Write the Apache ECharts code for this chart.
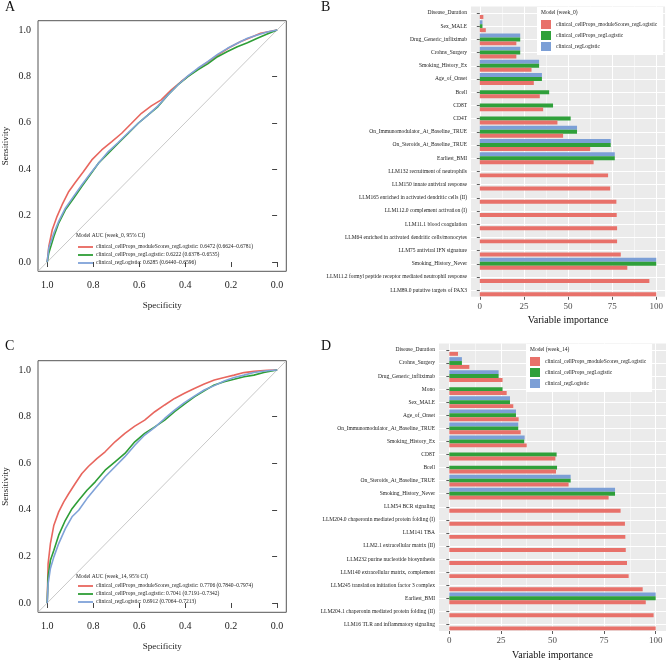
<!DOCTYPE html>
<html>
<head>
<meta charset="utf-8">
<script src="https://cdn.jsdelivr.net/npm/echarts@6/dist/echarts.min.js"></script>
<style>html,body{margin:0;padding:0;background:#fff}#chart{width:666px;height:661px}</style>
</head>
<body>
<div id="chart"></div>
<script>
// ---------- data ----------
const modelNames = ['clinical_cellProps_moduleScores_regLogistic', 'clinical_cellProps_regLogistic', 'clinical_regLogistic'];
const modelColors = ['#E8716A', '#2FA03A', '#7C9FD6'];
const rocColors = ['#E8665E', '#2E9E36', '#7FA2D8'];
const rocTicks = [0, 0.2, 0.4, 0.6, 0.8, 1.0];
const impTicks = [0, 25, 50, 75, 100];
const impMinorTicks = [12.5, 37.5, 62.5, 87.5];
const diagonalRef = [[1.04, -0.04], [-0.04, 1.04]];

const aucWeek0 = ['0.6472 (0.6624–0.6781)', '0.6222 (0.6378–0.6535)', '0.6285 (0.6440–0.6596)'];
const aucWeek14 = ['0.7706 (0.7840–0.7974)', '0.7041 (0.7191–0.7342)', '0.6912 (0.7064–0.7213)'];

// ROC week 0: [specificity, sensitivity]
const rocW0Module = [[1,0],[0.993,0.067],[0.978,0.139],[0.957,0.197],[0.935,0.247],[0.906,0.304],[0.878,0.343],[0.842,0.390],[0.806,0.440],[0.763,0.483],[0.719,0.519],[0.676,0.555],[0.633,0.598],[0.590,0.641],[0.547,0.673],[0.504,0.699],[0.460,0.742],[0.417,0.778],[0.374,0.811],[0.331,0.842],[0.288,0.871],[0.245,0.900],[0.201,0.928],[0.158,0.950],[0.115,0.968],[0.072,0.986],[0,1]];
const rocW0CellProps = [[1,0],[0.993,0.039],[0.971,0.110],[0.950,0.168],[0.921,0.225],[0.885,0.275],[0.849,0.326],[0.813,0.376],[0.777,0.426],[0.734,0.469],[0.691,0.512],[0.647,0.555],[0.604,0.598],[0.561,0.634],[0.518,0.670],[0.475,0.720],[0.432,0.763],[0.388,0.799],[0.345,0.828],[0.302,0.854],[0.259,0.885],[0.216,0.907],[0.173,0.928],[0.129,0.945],[0.086,0.964],[0.043,0.983],[0,1]];
const rocW0Clinical = [[1,0],[0.993,0.060],[0.971,0.125],[0.950,0.175],[0.921,0.232],[0.885,0.283],[0.849,0.333],[0.813,0.380],[0.777,0.426],[0.734,0.476],[0.691,0.515],[0.647,0.558],[0.604,0.598],[0.561,0.634],[0.518,0.673],[0.475,0.720],[0.432,0.763],[0.388,0.802],[0.345,0.835],[0.302,0.864],[0.259,0.895],[0.216,0.921],[0.173,0.943],[0.129,0.964],[0.086,0.978],[0.043,0.991],[0,1]];

// ROC week 14
const rocW14Module = [[1,0],[0.996,0.169],[0.986,0.255],[0.971,0.334],[0.950,0.391],[0.928,0.434],[0.906,0.470],[0.878,0.513],[0.849,0.556],[0.820,0.587],[0.784,0.620],[0.748,0.649],[0.705,0.692],[0.662,0.728],[0.619,0.759],[0.576,0.785],[0.532,0.821],[0.489,0.850],[0.446,0.878],[0.403,0.900],[0.360,0.921],[0.317,0.940],[0.273,0.957],[0.230,0.968],[0.187,0.978],[0.144,0.989],[0.101,0.994],[0.043,0.999],[0,1]];
const rocW14CellProps = [[1,0],[0.996,0.112],[0.986,0.183],[0.971,0.226],[0.950,0.291],[0.921,0.355],[0.892,0.405],[0.863,0.441],[0.827,0.484],[0.791,0.520],[0.748,0.570],[0.705,0.606],[0.662,0.642],[0.619,0.692],[0.576,0.728],[0.532,0.756],[0.489,0.785],[0.446,0.821],[0.403,0.854],[0.360,0.885],[0.317,0.911],[0.273,0.936],[0.230,0.950],[0.187,0.960],[0.144,0.971],[0.101,0.978],[0.058,0.989],[0,1]];
const rocW14Clinical = [[1,0],[0.996,0.083],[0.986,0.148],[0.971,0.198],[0.950,0.255],[0.921,0.319],[0.892,0.370],[0.863,0.398],[0.827,0.448],[0.791,0.491],[0.748,0.542],[0.705,0.585],[0.662,0.628],[0.619,0.677],[0.576,0.721],[0.532,0.754],[0.489,0.792],[0.446,0.828],[0.403,0.860],[0.360,0.888],[0.317,0.914],[0.273,0.933],[0.230,0.953],[0.187,0.968],[0.144,0.978],[0.101,0.989],[0.043,0.997],[0,1]];

// Variable importance week 0
const week0Features = ['Disease_Duration','Sex_MALE','Drug_Generic_infliximab','Crohns_Surgery','Smoking_History_Ex','Age_of_Onset','Bcell','CD8T','CD4T','On_Immunomodulator_At_Baseline_TRUE','On_Steroids_At_Baseline_TRUE','Earliest_BMI','LLM132 recruitment of neutrophils','LLM150 innate antiviral response','LLM165 enriched in activated dendritic cells (II)','LLM112.0 complement activation (I)','LLM11.1 blood coagulation','LLM64 enriched in activated dendritic cells/monocytes','LLM75 antiviral IFN signature','Smoking_History_Never','LLM11.2 formyl peptide receptor mediated neutrophil response','LLM89.0 putative targets of PAX3'];
const week0ModuleScores = [2.0, 3.4, 20.7, 20.7, 29.3, 30.6, 34.0, 35.9, 44.0, 47.2, 62.6, 64.5, 72.7, 73.9, 77.4, 77.6, 77.8, 77.8, 79.9, 83.6, 96.1, 100];
const week0CellProps = [null, 1.5, 22.9, 22.9, 33.6, 35.2, 39.3, 41.5, 51.5, 55.1, 74.2, 76.5, null, null, null, null, null, null, null, 100, null, null];
const week0Clinical = [null, 1.5, 22.9, 22.9, 33.6, 35.2, null, null, null, 55.1, 74.2, 76.5, null, null, null, null, null, null, null, 100, null, null];

// Variable importance week 14
const week14Features = ['Disease_Duration','Crohns_Surgery','Drug_Generic_infliximab','Mono','Sex_MALE','Age_of_Onset','On_Immunomodulator_At_Baseline_TRUE','Smoking_History_Ex','CD8T','Bcell','On_Steroids_At_Baseline_TRUE','Smoking_History_Never','LLM54 BCR signaling','LLM204.0 chaperonin mediated protein folding (I)','LLM141 TBA','LLM2.1 extracellular matrix (II)','LLM232 purine nucleotide biosynthesis','LLM140 extracellular matrix, complement','LLM245 translation initiation factor 3 complex','Earliest_BMI','LLM204.1 chaperonin mediated protein folding (II)','LLM16 TLR and inflammatory signaling'];
const week14ModuleScores = [4.2, 9.7, 25.8, 27.8, 31.0, 33.6, 34.6, 37.5, 51.4, 51.7, 57.8, 77.2, 83.0, 85.1, 85.3, 85.5, 86.1, 86.9, 93.7, 95.2, 99.0, 100];
const week14CellProps = [null, 6.1, 23.9, 25.8, 29.4, 32.3, 33.4, 36.3, 52.0, 52.2, 58.8, 80.3, null, null, null, null, null, null, null, 100, null, null];
const week14Clinical = [null, 6.1, 23.9, null, 29.4, 32.3, 33.4, 36.5, null, null, 58.8, 80.3, null, null, null, null, null, null, null, 100, null, null];

// ---------- chart ----------
const FONT = '"Liberation Serif", "DejaVu Serif", serif';
const chart = echarts.init(document.getElementById('chart'), null, {renderer: 'canvas'});

function rocX(gridIndex) {
  return {
    type: 'value', gridIndex, min: -0.04, max: 1.04, inverse: true,
    axisLine: {show: false}, splitLine: {show: false},
    axisTick: {show: true, length: 5, inside: false, customValues: rocTicks, lineStyle: {color: '#444', width: 1}},
    axisLabel: {customValues: rocTicks, formatter: v => v.toFixed(1), fontFamily: FONT, fontSize: 10, color: '#222', margin: 9},
    name: 'Specificity', nameLocation: 'middle', nameGap: 30,
    nameTextStyle: {fontFamily: FONT, fontSize: 9, color: '#222'}
  };
}
function rocY(gridIndex) {
  return {
    type: 'value', gridIndex, min: -0.04, max: 1.04,
    axisLine: {show: false}, splitLine: {show: false},
    axisTick: {show: true, length: 5, inside: false, customValues: rocTicks, lineStyle: {color: '#444', width: 1}},
    axisLabel: {customValues: rocTicks, formatter: v => v.toFixed(1), fontFamily: FONT, fontSize: 10, color: '#222', margin: 7},
    name: 'Sensitivity', nameLocation: 'middle', nameGap: 28,
    nameTextStyle: {fontFamily: FONT, fontSize: 9, color: '#222'}
  };
}
function impX(gridIndex) {
  return {
    type: 'value', gridIndex, min: -5, max: 105, position: 'bottom',
    axisLine: {show: false},
    axisTick: {show: true, length: 3, customValues: impTicks, lineStyle: {color: '#333', width: 0.8}},
    axisLabel: {customValues: impTicks, fontFamily: FONT, fontSize: 9, color: '#4D4D4D', margin: 5},
    splitLine: {show: true, lineStyle: {color: '#FFFFFF', width: 1}},
    name: 'Variable importance', nameLocation: 'middle', nameGap: 19,
    nameTextStyle: {fontFamily: FONT, fontSize: 10, color: '#111'}
  };
}
function impXMinor(gridIndex) {
  return {
    type: 'value', gridIndex, min: -5, max: 105, position: 'top',
    axisLine: {show: false}, axisLabel: {show: false},
    axisTick: {show: false, customValues: impMinorTicks},
    splitLine: {show: true, lineStyle: {color: '#FFFFFF', width: 0.5}}
  };
}
function impY(gridIndex, cats) {
  return {
    type: 'category', gridIndex, data: cats, inverse: true,
    axisLine: {show: false},
    axisTick: {show: true, length: 3, alignWithLabel: true, lineStyle: {color: '#333', width: 0.8}},
    axisLabel: {fontFamily: FONT, fontSize: 5.5, color: '#222', margin: 4, interval: 0},
    splitLine: {show: true, alignWithLabel: true, lineStyle: {color: '#FFFFFF', width: 1}}
  };
}

function rocSeries(name, data, color, xi, yi) {
  return {type: 'line', name, data, xAxisIndex: xi, yAxisIndex: yi, symbol: 'none', showSymbol: false,
    lineStyle: {color, width: 1.6}, itemStyle: {color}, clip: true, animation: false, z: 3};
}
function diagSeries(xi, yi) {
  return {type: 'line', name: 'diag' + xi, data: diagonalRef, xAxisIndex: xi, yAxisIndex: yi, symbol: 'none',
    lineStyle: {color: '#C8C8C8', width: 1}, silent: true, clip: true, animation: false, z: 2};
}
function barSeries(name, data, color, xi, yi) {
  return {type: 'bar', name, data, xAxisIndex: xi, yAxisIndex: yi, itemStyle: {color},
    barGap: '0%', barCategoryGap: '10%', animation: false};
}

const rocNamesW0 = modelNames.map((n, i) => n + ': ' + aucWeek0[i]);
const rocNamesW14 = modelNames.map((n, i) => n + ': ' + aucWeek14[i]);

function rocLegend(names, top) {
  return {
    data: names, orient: 'vertical', left: 78, top, itemWidth: 15, itemHeight: 6, itemGap: 2, padding: 0,
    icon: 'path://M0,0 L15,0 L15,1.8 L0,1.8 Z',
    textStyle: {fontFamily: FONT, fontSize: 5.5, color: '#222', padding: [0, 0, 0, -2]}, selectedMode: false
  };
}
function barLegend(left, top) {
  return {
    data: modelNames, orient: 'vertical', left, top, itemWidth: 10, itemHeight: 9, itemGap: 2,
    padding: [13, 6, 4, 4], backgroundColor: '#FFFFFF', icon: 'rect',
    textStyle: {fontFamily: FONT, fontSize: 5.5, color: '#222'}, selectedMode: false
  };
}

const labelStyle = {fontFamily: FONT, fontSize: 14, color: '#111', fontWeight: 'normal'};
const smallTitle = {fontFamily: FONT, fontSize: 5.5, color: '#222', fontWeight: 'normal'};

const option = {
  backgroundColor: '#FFFFFF',
  animation: false,
  title: [
    {text: 'A', left: 5, top: 0, textStyle: labelStyle, padding: 0},
    {text: 'B', left: 321, top: 0, textStyle: labelStyle, padding: 0},
    {text: 'C', left: 5, top: 339, textStyle: labelStyle, padding: 0},
    {text: 'D', left: 321, top: 339, textStyle: labelStyle, padding: 0},
    {text: 'Model AUC (week_0, 95% CI)', left: 76, top: 233, textStyle: smallTitle, padding: 0},
    {text: 'Model AUC (week_14, 95% CI)', left: 76, top: 574, textStyle: smallTitle, padding: 0},
    {text: 'Model (week_0)', left: 541, top: 10, textStyle: smallTitle, padding: 0, z: 10},
    {text: 'Model (week_14)', left: 530, top: 347, textStyle: smallTitle, padding: 0, z: 10}
  ],
  legend: [
    rocLegend(rocNamesW0, 244),
    rocLegend(rocNamesW14, 583),
    barLegend(537, 7),
    barLegend(526, 344)
  ],
  grid: [
    {left: 35.7, top: 20.7, width: 250.6, height: 250.6, show: true, borderColor: '#555', borderWidth: 1, backgroundColor: 'transparent'},
    {left: 471, top: 6.4, width: 195, height: 290.4, show: true, borderWidth: 0, backgroundColor: '#EBEBEB'},
    {left: 35.7, top: 360.7, width: 250.6, height: 251.6, show: true, borderColor: '#555', borderWidth: 1, backgroundColor: 'transparent'},
    {left: 439, top: 343.4, width: 227, height: 290, show: true, borderWidth: 0, backgroundColor: '#EBEBEB'}
  ],
  xAxis: [
    rocX(0),          // 0
    impX(1),          // 1
    impXMinor(1),     // 2
    rocX(2),          // 3
    impX(3),          // 4
    impXMinor(3)      // 5
  ],
  yAxis: [
    rocY(0),                       // 0
    impY(1, week0Features),        // 1
    rocY(2),                       // 2
    impY(3, week14Features)        // 3
  ],
  series: [
    diagSeries(0, 0),
    rocSeries(rocNamesW0[0], rocW0Module, rocColors[0], 0, 0),
    rocSeries(rocNamesW0[1], rocW0CellProps, rocColors[1], 0, 0),
    rocSeries(rocNamesW0[2], rocW0Clinical, rocColors[2], 0, 0),
    diagSeries(3, 2),
    rocSeries(rocNamesW14[0], rocW14Module, rocColors[0], 3, 2),
    rocSeries(rocNamesW14[1], rocW14CellProps, rocColors[1], 3, 2),
    rocSeries(rocNamesW14[2], rocW14Clinical, rocColors[2], 3, 2),
    barSeries(modelNames[2], week0Clinical, modelColors[2], 1, 1),
    barSeries(modelNames[1], week0CellProps, modelColors[1], 1, 1),
    barSeries(modelNames[0], week0ModuleScores, modelColors[0], 1, 1),
    barSeries(modelNames[2], week14Clinical, modelColors[2], 4, 3),
    barSeries(modelNames[1], week14CellProps, modelColors[1], 4, 3),
    barSeries(modelNames[0], week14ModuleScores, modelColors[0], 4, 3)
  ]
};
// minor split lines follow their own custom values
option.xAxis[2].splitLine.customValues = impMinorTicks;
option.xAxis[5].splitLine.customValues = impMinorTicks;
chart.setOption(option);
</script>
</body>
</html>
